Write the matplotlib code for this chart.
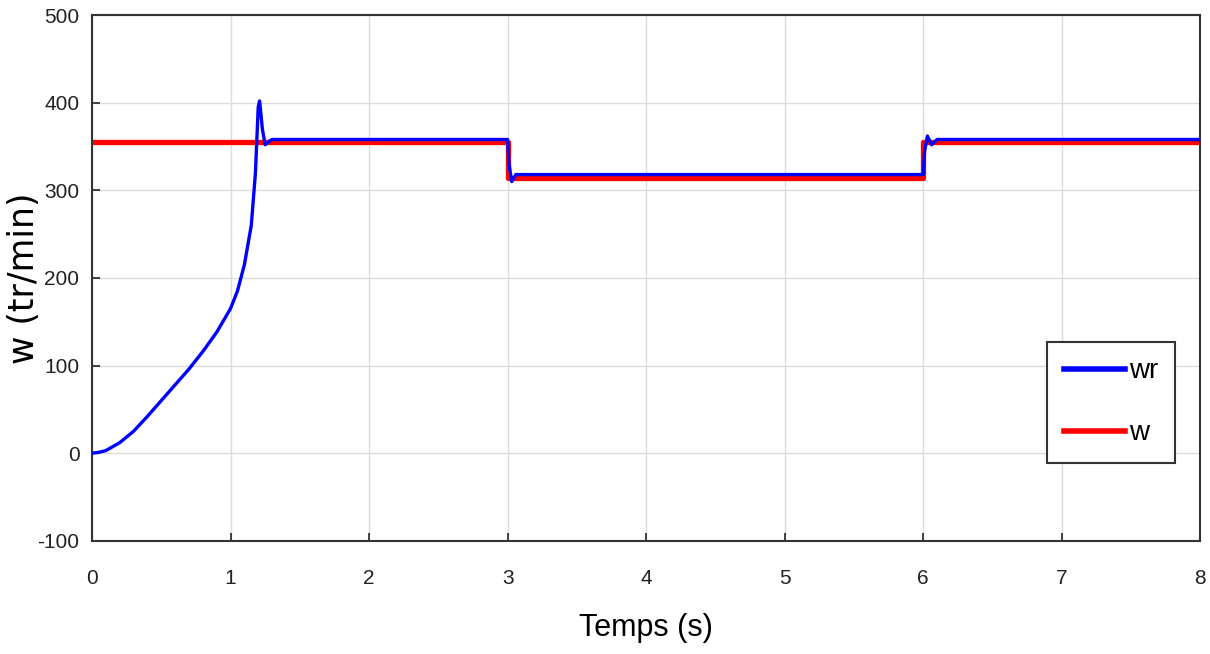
import matplotlib
matplotlib.use('Agg')
import matplotlib.pyplot as plt
import numpy as np

plt.rcParams['font.family'] = ['Liberation Sans', 'DejaVu Sans']
plt.rcParams['axes.unicode_minus'] = False

# reference speed w (tr/min)
t_w = [0, 3, 3, 6, 6, 8]
w = [355, 355, 314, 314, 355, 355]

# measured rotor speed wr (tr/min)
t_wr = [0, 0.05, 0.1, 0.2, 0.3, 0.4, 0.5, 0.6, 0.7, 0.8, 0.9, 1.0, 1.05, 1.1,
        1.15, 1.18, 1.2, 1.21, 1.23, 1.25, 1.28, 1.3, 3.0, 3.01, 3.03, 3.06,
        3.1, 6.0, 6.01, 6.03, 6.06, 6.1, 8.0]
wr = [0, 1, 3, 12, 25, 42, 60, 78, 96, 116, 138, 165, 185, 215,
      260, 320, 395, 402, 370, 352, 356, 358, 358, 330, 310, 318,
      318, 318, 345, 362, 352, 358, 358]

fig = plt.figure(figsize=(12.1, 6.54), dpi=100)
ax = fig.add_axes([0.076, 0.173, 0.916, 0.804])

ax.plot(t_wr, wr, color='#0000ff', lw=2.4, label='wr', zorder=3)
ax.plot(t_w, w, color='#ff0000', lw=3.8, label='w', zorder=2)

ax.set_xlim(0, 8)
ax.set_ylim(-100, 500)
ax.set_xticks(range(0, 9))
ax.set_yticks(range(-100, 501, 100))
ax.grid(True, color='#dcdcdc', lw=1)
ax.tick_params(direction='in', length=6, width=1.2, labelsize=15, colors='#222222', pad=9)
ax.tick_params(axis='x', pad=20)
for s in ax.spines.values():
    s.set_linewidth(1.5)
    s.set_color('#333333')

ax.set_xlabel('Temps (s)', fontsize=22, labelpad=18)
ax.set_ylabel('w (tr/min)', fontsize=25, family=['DejaVu Sans'])
ax.yaxis.set_label_coords(-0.046, 0.5)

leg = ax.legend(loc='lower left', bbox_to_anchor=(0.862, 0.148), fontsize=20,
                labelspacing=1.3, handlelength=2.2, handletextpad=0.15,
                borderpad=0.6, borderaxespad=0, fancybox=False,
                edgecolor='#333333', framealpha=1)
leg.get_frame().set_linewidth(1.5)
for h in leg.get_lines():
    h.set_linewidth(4)

fig.savefig('out.png', dpi=100)
